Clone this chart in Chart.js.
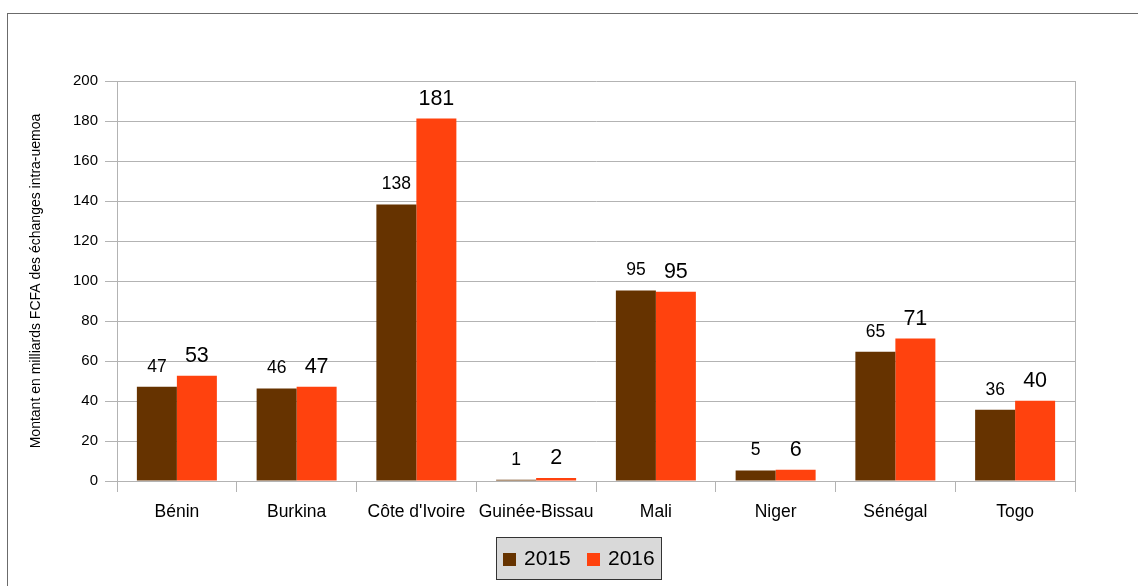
<!DOCTYPE html>
<html>
<head>
<meta charset="utf-8">
<script src="https://cdn.jsdelivr.net/npm/chart.js@4"></script>
<style>
  body { margin: 0; background: #fff; }
  #wrap { position: relative; width: 1138px; height: 586px; overflow: hidden; }
  #frame { position: absolute; left: 7px; top: 13px; width: 1200px; height: 700px;
           border-left: 1px solid #6b6b6b; border-top: 1px solid #6b6b6b; }
  canvas { position: absolute; left: 0; top: 0; }
</style>
</head>
<body>
<div id="wrap">
  <div id="frame"></div>
  <canvas id="chart" width="1138" height="586"></canvas>
</div>
<script>
// data
const countries = ["Bénin", "Burkina", "Côte d'Ivoire", "Guinée-Bissau", "Mali", "Niger", "Sénégal", "Togo"];
const values2015 = [47.1, 46.2, 138.2, 0.6, 95.2, 5.2, 64.6, 35.6];
const values2016 = [52.6, 47.1, 181.2, 1.5, 94.6, 5.6, 71.2, 40.1];
const seriesNames = ["2015", "2016"];
const seriesColors = ["#663300", "#ff420e"];
const labelSizes = [17.5, 21.5];
const yTicks = [0, 20, 40, 60, 80, 100, 120, 140, 160, 180, 200];
const yTitle = "Montant en milliards FCFA des échanges intra-uemoa";

const FONT = "'Liberation Sans', Arial, sans-serif";
const GRID = "#b3b3b3";

// value labels above each bar
const barLabels = {
  id: "barLabels",
  afterDatasetsDraw(chart) {
    const ctx = chart.ctx;
    ctx.save();
    ctx.fillStyle = "#000";
    ctx.textAlign = "center";
    ctx.textBaseline = "middle";
    chart.data.datasets.forEach((ds, i) => {
      ctx.font = labelSizes[i] + "px " + FONT;
      chart.getDatasetMeta(i).data.forEach((bar, j) => {
        ctx.fillText(Math.round(ds.data[j]), bar.x, bar.y - 20);
      });
    });
    ctx.restore();
  }
};

// boxed legend under the chart
const boxLegend = {
  id: "boxLegend",
  afterDraw(chart) {
    const ctx = chart.ctx;
    const left = 496, top = 537, w = 166, h = 43;
    ctx.save();
    ctx.fillStyle = "#d9d9d9";
    ctx.fillRect(left, top, w, h);
    ctx.strokeStyle = "#333";
    ctx.lineWidth = 1;
    ctx.strokeRect(left + 0.5, top + 0.5, w - 1, h - 1);
    ctx.font = "21px " + FONT;
    ctx.textBaseline = "middle";
    let x = left + 7;
    const cy = top + h / 2 + 1;
    chart.data.datasets.forEach((ds) => {
      ctx.fillStyle = ds.backgroundColor;
      ctx.fillRect(x, cy - 6.5, 13, 13);
      ctx.fillStyle = "#000";
      ctx.textAlign = "left";
      ctx.fillText(ds.label, x + 21, cy);
      x += 84;
    });
    ctx.restore();
  }
};

new Chart(document.getElementById("chart"), {
  type: "bar",
  data: {
    labels: countries,
    datasets: [
      { label: seriesNames[0], data: values2015, backgroundColor: seriesColors[0] },
      { label: seriesNames[1], data: values2016, backgroundColor: seriesColors[1] }
    ]
  },
  options: {
    responsive: false,
    animation: false,
    categoryPercentage: 0.668,
    barPercentage: 1,
    layout: { padding: { left: 20, right: 63, top: 81, bottom: 60 } },
    plugins: { legend: { display: false }, tooltip: { enabled: false } },
    scales: {
      x: {
        afterFit(scale) { scale.height = 45; },
        grid: {
          offset: true,
          tickLength: 11,
          color: (c) => (c.type === "tick" && c.index > 0 ? "transparent" : GRID),
          tickColor: GRID
        },
        border: { color: GRID },
        ticks: {
          color: "#000", padding: 10, autoSkip: false, maxRotation: 0, minRotation: 0,
          font: { family: FONT, size: 17.5 }
        }
      },
      y: {
        min: 0,
        max: 200,
        afterFit(scale) { scale.width = 97; },
        afterBuildTicks(scale) { scale.ticks = yTicks.map((v) => ({ value: v })); },
        grid: { color: GRID, tickLength: 12 },
        border: { color: GRID },
        ticks: { color: "#000", padding: 7, font: { family: FONT, size: 15 } },
        title: {
          display: true,
          text: yTitle,
          color: "#000",
          padding: { top: 8, bottom: 0 },
          font: { family: FONT, size: 14 }
        }
      }
    }
  },
  plugins: [barLabels, boxLegend]
});
</script>
</body>
</html>
